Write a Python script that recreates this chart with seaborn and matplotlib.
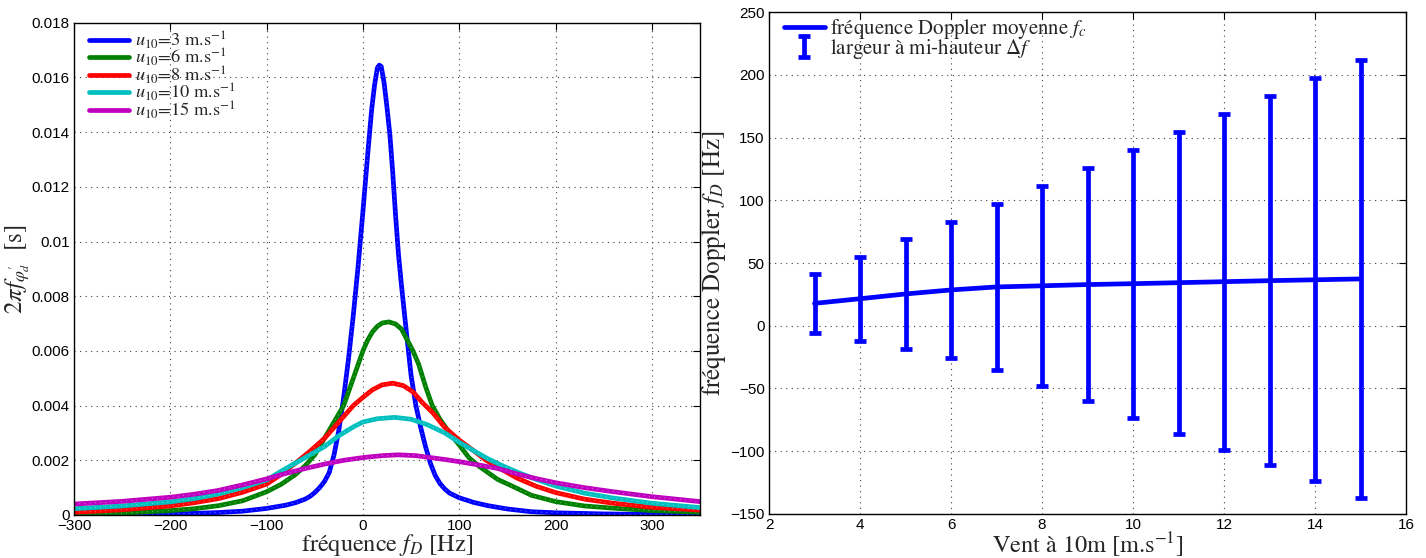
import numpy as np
import pandas as pd
import matplotlib
matplotlib.use("Agg")
import matplotlib.pyplot as plt
import seaborn as sns

sns.set_style("white")
plt.rcParams['font.family'] = ['Liberation Sans', 'DejaVu Sans']
plt.rcParams['mathtext.fontset'] = 'stix'

# ---------------- left panel data ----------------
f_u3 = [-300, -250, -200, -175, -150, -125, -100, -90, -80, -70, -60, -55, -50, -45, -40, -35,
        -30, -25, -20, -15, -10, -5, 0, 5, 9, 12, 15, 17, 19, 22, 25, 28, 31, 34, 37, 40, 43,
        46, 50, 55, 60, 65, 70, 75, 80, 85, 90, 100, 115, 130, 150, 175, 200, 250, 300, 350]
v_u3 = [0.00001, 0.00002, 0.00004, 0.00006, 0.00009, 0.00014, 0.00024, 0.0003, 0.00036,
        0.00045, 0.00058, 0.00068, 0.00082, 0.0010, 0.00122, 0.00155, 0.0022, 0.0031, 0.0043,
        0.0057, 0.0073, 0.0091, 0.0111, 0.0132, 0.0148, 0.0157, 0.01635, 0.01645, 0.0164,
        0.0158, 0.0149, 0.0139, 0.0125, 0.0109, 0.0095, 0.0084, 0.0074, 0.0064, 0.0051, 0.0040,
        0.0032, 0.0025, 0.0019, 0.00145, 0.00115, 0.00095, 0.0008, 0.00063, 0.00046, 0.00034,
        0.00022, 0.00012, 0.00008, 0.00004, 0.00002, 0.00001]

f_u6 = [-300, -250, -200, -175, -150, -125, -100, -85, -70, -60, -50, -40, -30, -20, -10, 0, 5,
        10, 15, 20, 27, 34, 40, 46, 52, 58, 65, 72, 80, 90, 100, 110, 121, 140, 156, 175, 200,
        230, 260, 300, 350]
v_u6 = [0.00003, 0.00007, 0.00016, 0.00023, 0.00034, 0.00052, 0.00085, 0.00112, 0.00148,
        0.0018, 0.0022, 0.0028, 0.0034, 0.0040, 0.0050, 0.0060, 0.0064, 0.0067, 0.0069, 0.00702,
        0.00706, 0.00698, 0.0068, 0.0064, 0.0060, 0.0055, 0.0047, 0.0040, 0.0035, 0.0030,
        0.00256, 0.0021, 0.00177, 0.0013, 0.00104, 0.00072, 0.00049, 0.00033, 0.00025,
        0.00016, 0.0001]

f_u8 = [-300, -250, -200, -175, -150, -125, -100, -85, -70, -55, -40, -25, -10, 0, 10, 20, 31,
        42, 52, 62, 73, 85, 100, 115, 128, 145, 160, 180, 200, 230, 260, 300, 350]
v_u8 = [0.0001, 0.00019, 0.00033, 0.00045, 0.0006, 0.00083, 0.00113, 0.00148, 0.0019, 0.00233,
        0.0028, 0.0034, 0.0040, 0.0043, 0.00458, 0.00476, 0.00482, 0.00473, 0.0045, 0.0041,
        0.00372, 0.0032, 0.00274, 0.00235, 0.0020, 0.00165, 0.00135, 0.00105, 0.00082,
        0.00058, 0.00043, 0.00028, 0.00018]

f_u10 = [-300, -250, -200, -175, -150, -125, -100, -85, -70, -55, -40, -25, -10, 0, 15, 33, 50,
         67, 85, 100, 115, 130, 145, 160, 180, 200, 230, 260, 300, 350]
v_u10 = [0.00023, 0.00033, 0.00048, 0.0006, 0.00077, 0.001, 0.00128, 0.0016, 0.0019, 0.0022,
         0.0025, 0.0029, 0.00322, 0.0034, 0.00352, 0.00357, 0.0035, 0.0033, 0.0030, 0.00266,
         0.00235, 0.00205, 0.0018, 0.00157, 0.0013, 0.00106, 0.0008, 0.00062, 0.00043, 0.00027]

f_u15 = [-300, -250, -200, -175, -150, -125, -100, -80, -60, -40, -20, 0, 20, 37, 55, 70, 85,
         100, 120, 140, 160, 180, 200, 230, 260, 300, 350]
v_u15 = [0.0004, 0.0005, 0.00065, 0.00076, 0.0009, 0.0011, 0.00132, 0.00152, 0.0017, 0.00186,
         0.0020, 0.0021, 0.00217, 0.0022, 0.00217, 0.0021, 0.00203, 0.00195, 0.00183, 0.0017,
         0.0015, 0.00133, 0.00118, 0.001, 0.00085, 0.00067, 0.00049]

left_labels = [r"$u_{10}$=3 m.s$^{-1}$", r"$u_{10}$=6 m.s$^{-1}$", r"$u_{10}$=8 m.s$^{-1}$",
               r"$u_{10}$=10 m.s$^{-1}$", r"$u_{10}$=15 m.s$^{-1}$"]
left_colors = ["#0000ff", "#008000", "#ff0000", "#00bfbf", "#bf00bf"]

# ---------------- right panel data ----------------
wind = [3, 4, 5, 6, 7, 8, 9, 10, 11, 12, 13, 14, 15]
fc = [17.8, 21.5, 25.3, 28.5, 30.9, 31.8, 32.8, 33.5, 34.3, 35.1, 35.9, 36.6, 37.3]
delta_f = [46.6, 66.8, 87.2, 108.5, 131.9, 159.5, 186.2, 213.6, 240.7, 267.8, 294.7, 321.8, 348.9]

serif = 'STIXGeneral'

fig = plt.figure(figsize=(14.26, 5.58), dpi=100)
ax1 = fig.add_axes([74/1426, 1-515/558, (700-74)/1426, (515-22.7)/558])
ax2 = fig.add_axes([769/1426, 1-513.7/558, (1406-769)/1426, (513.7-12.3)/558])

series = [(f_u3, v_u3), (f_u6, v_u6), (f_u8, v_u8), (f_u10, v_u10), (f_u15, v_u15)]
for (fx, vy), lab, col in zip(series, left_labels, left_colors):
    sns.lineplot(x=fx, y=vy, ax=ax1, color=col, lw=3.4, label=lab, sort=False)
    ax1.plot(fx, vy, color='white', lw=0.5, ls=(0, (1.5, 6)), alpha=0.6)

ax1.set_xlim(-300, 350)
ax1.set_ylim(0, 0.018)
ax1.set_xticks(np.arange(-300, 301, 100))
ax1.set_yticks(np.arange(0, 0.0181, 0.002))
ax1.set_yticklabels(['0'] + ['%g' % v for v in np.arange(0.002, 0.0181, 0.002)])
ax1.set_xlabel(r"fréquence $f_D$ [Hz]", family=serif, fontsize=17.5, labelpad=-1)
ax1.set_ylabel(r"$2\pi f_{\varphi_d^{\prime}}$  [s]", family=serif, fontsize=18, labelpad=0)
ax1.legend(loc='upper left', bbox_to_anchor=(0.024, 0.987), frameon=False,
           prop={'family': serif, 'size': 13.2},
           handlelength=2.2, handletextpad=0.3, labelspacing=-0.22, borderaxespad=0.0,
           borderpad=0.0)

sns.lineplot(x=wind, y=fc, ax=ax2, color='#0000ff', lw=3.4,
             label=r"fréquence Doppler moyenne $f_c$", sort=False)
ax2.errorbar(wind, fc, yerr=np.array(delta_f)/2, fmt='none', ecolor='#0000ff',
             elinewidth=3.4, capsize=4, capthick=3.4, label=r"largeur à mi-hauteur $\Delta f$")
ax2.set_xlim(2, 16)
ax2.set_ylim(-150, 250)
ax2.set_xticks(np.arange(2, 17, 2))
ax2.set_yticks(np.arange(-150, 251, 50))
ax2.set_xlabel(r"Vent à 10m [m.s$^{-1}$]", family=serif, fontsize=17.5, labelpad=-1)
ax2.set_ylabel(r"fréquence Doppler $f_D$ [Hz]", family=serif, fontsize=18, labelpad=2)
ax2.legend(loc='upper left', bbox_to_anchor=(0.0235, 0.99), frameon=False,
           prop={'family': serif, 'size': 15},
           handlelength=1.95, handletextpad=0.25, labelspacing=-0.22, borderaxespad=0.0,
           borderpad=0.0)

for ax in (ax1, ax2):
    ax.grid(True, linestyle=(0, (1, 4)), color='0.25', linewidth=0.8)
    ax.tick_params(direction='in', top=True, right=True, length=5, width=0.8,
                   labelsize=11, pad=3, colors='black')
    for s in ax.spines.values():
        s.set_color('black')
        s.set_linewidth(1.0)

fig.savefig("out.png", dpi=100)
